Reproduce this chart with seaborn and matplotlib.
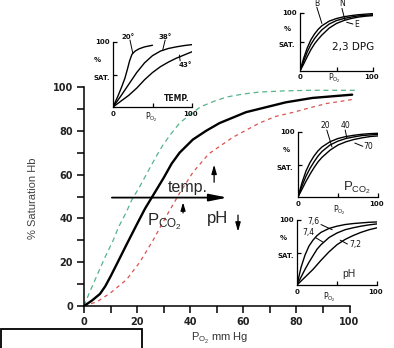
import matplotlib
matplotlib.use("Agg")
import matplotlib.pyplot as plt
from matplotlib.patches import Rectangle
import seaborn as sns

# --- main dissociation curves (PO2 mm Hg, % saturation) ---
normal_x = [0, 3, 6, 8, 10, 12.5, 16, 20, 23, 26, 30, 33, 36, 41, 46, 51, 56, 61, 66, 71, 76, 81, 86, 91, 96, 101]
normal_y = [0, 2.5, 5.5, 9, 13.5, 19.5, 28, 37.5, 44.5, 50.5, 58.5, 65, 70, 76, 80, 83.5, 86, 88.5, 90, 91.5, 93, 94, 95, 95.5, 96, 96.5]

left_x = [0, 2, 4, 6, 8, 11, 13, 16, 18, 20.5, 23, 25, 28, 30, 33, 36, 40, 44, 49, 54, 60, 66, 75, 85, 95, 103]
left_y = [0, 6, 11.5, 17, 22.5, 30, 36, 43, 48.5, 53.5, 59, 63.5, 70, 74, 79, 83.5, 87.5, 91, 93.5, 95.5, 96.8, 97.7, 98.2, 98.5, 98.5, 98.5]

right_x = [0, 5, 10, 16, 21, 26, 31, 36, 41, 47, 56, 66, 72, 79, 85, 91.5, 97, 102]
right_y = [0, 2, 6, 12, 20, 30, 41, 51.5, 61, 69.5, 77, 83.5, 86.5, 88.5, 90.5, 92.5, 93.5, 94.5]

main_ticks = [0, 20, 40, 60, 80, 100]

# --- inset curves (inset PO2 0-100, % sat 0-100) ---
temp_labels = ["20°", "38°", "43°"]
t20_x = [0, 6, 11, 15, 18, 21, 24, 28, 33, 40, 50]
t20_y = [0, 16, 31, 44, 57, 71, 81, 86, 89.5, 92.5, 95]
t38_x = [0, 10, 20, 30, 40, 50, 60, 70, 80, 90, 100]
t38_y = [0, 17, 35, 53, 68, 79, 86, 90, 92.5, 94.5, 96]
t43_x = [0, 10, 20, 30, 40, 50, 60, 70, 80, 90, 100]
t43_y = [0, 9, 18, 29, 42, 53, 62, 69, 75, 80, 85]

inset_x = [0, 5, 10, 15, 20, 25, 30, 40, 50, 60, 70, 80, 90, 100]
dpg_labels = ["B", "N", "E"]
dpg_b = [0, 22, 40, 54, 64, 72, 78, 86, 90.5, 93.5, 95.5, 97, 98, 99]
dpg_n = [0, 17, 33, 46, 56, 64, 71, 81, 87, 90.5, 93, 95, 96, 97]
dpg_e = [0, 12, 25, 37, 47, 55, 62, 74, 82, 87, 90.5, 93, 94.5, 95.5]

co2_labels = ["20", "40", "70"]
co2_20 = [0, 22, 40, 53, 63, 71, 77, 85, 90, 93, 95, 96.5, 97.5, 98]
co2_40 = [0, 17, 32, 44, 54, 63, 70, 80, 86, 90, 92.5, 94.5, 95.5, 96.5]
co2_70 = [0, 12, 24, 35, 45, 54, 61, 72, 80, 85, 88.5, 91, 93, 94]

ph_labels = ["7,6", "7,4", "7,2"]
ph_76 = [0, 27, 46, 60, 69, 76, 81, 87, 90.5, 93, 94.5, 95.5, 96.5, 97]
ph_74 = [0, 12, 24, 35, 45, 55, 62, 73, 80, 85, 88, 90.5, 92.5, 94]
ph_72 = [0, 6, 12, 18, 24, 31, 38, 51, 62, 70, 76, 81, 85, 88]

W, H = 394, 348

sns.set_theme(style="white")
plt.rcParams["font.family"] = ["Liberation Sans", "DejaVu Sans"]
plt.rcParams["mathtext.fontset"] = "custom"
plt.rcParams["mathtext.rm"] = "Liberation Sans"
plt.rcParams["mathtext.it"] = "Liberation Sans:italic"

fig = plt.figure(figsize=(W / 100, H / 100), dpi=100)

# main axes: x 0 at px 84, 100 at px 349.5 ; y 0 at px 306, 100 at px 87
ax = fig.add_axes([84 / W, 1 - 306 / H, 273.5 / W, 219 / H])
ax.set_xlim(0, 103)
ax.set_ylim(0, 100)
ax.patch.set_alpha(0)

sns.lineplot(x=left_x, y=left_y, ax=ax, color="#55b48a", linewidth=0.9, linestyle=(0, (4, 3)))
sns.lineplot(x=right_x, y=right_y, ax=ax, color="#d9534f", linewidth=0.9, linestyle=(0, (3, 3)))
sns.lineplot(x=normal_x, y=normal_y, ax=ax, color="black", linewidth=1.7)

for s in ["top", "right"]:
    ax.spines[s].set_visible(False)
for s in ["left", "bottom"]:
    ax.spines[s].set_color("black")
    ax.spines[s].set_linewidth(1.1)
ax.spines["bottom"].set_bounds(0, 100)

ax.set_xticks(main_ticks)
ax.set_yticks(main_ticks)
ax.set_xticks(range(10, 100, 20), minor=True)
ax.set_yticks(range(10, 100, 20), minor=True)
ax.tick_params(which="both", direction="out", length=5, width=1.1, color="black",
               labelsize=7, pad=3, left=True, bottom=True)
for lbl in ax.get_xticklabels() + ax.get_yticklabels():
    lbl.set_fontfamily("DejaVu Sans")
    lbl.set_fontweight("bold")
    lbl.set_color("#222222")

fig.text(33 / W, 1 - 198 / H, "% Saturation Hb", rotation=90, ha="center", va="center",
         fontsize=8, color="#444444")
fig.text(219.5 / W, 1 - 338 / H, r"P$_{\mathrm{O_2}}$ mm Hg", ha="center", va="center",
         fontsize=8, color="#333333")

# shift arrow and annotations
arrow = dict(color="black", shrinkA=0, shrinkB=0)
ax.annotate("", xy=(54, 49.5), xytext=(10.5, 49.5),
            arrowprops=dict(arrowstyle="-|>,head_length=0.9,head_width=0.18", lw=1.3, **arrow))
ax.text(31.5, 52, "temp.", fontsize=11.5, va="baseline")
ax.annotate("", xy=(49, 64.5), xytext=(49, 56.5),
            arrowprops=dict(arrowstyle="-|>,head_length=0.45,head_width=0.13", lw=0.9, **arrow))
ax.annotate("", xy=(37.3, 47.3), xytext=(37.3, 42.5),
            arrowprops=dict(arrowstyle="-|>,head_length=0.4,head_width=0.12", lw=0.9, **arrow))
ax.text(23.7, 37, r"P$_{\mathrm{CO_2}}$", fontsize=12, va="baseline")
ax.text(46.3, 38, "pH", fontsize=12, va="baseline")
ax.annotate("", xy=(58, 34), xytext=(58, 41.5),
            arrowprops=dict(arrowstyle="-|>,head_length=0.45,head_width=0.13", lw=0.9, **arrow))


def make_inset(px0, px100, py0, py100):
    a = fig.add_axes([px0 / W, 1 - py0 / H, (px100 - px0) / W, (py0 - py100) / H])
    a.set_xlim(0, 100)
    a.set_ylim(0, 100)
    a.patch.set_alpha(0)
    for s in ["top", "right"]:
        a.spines[s].set_visible(False)
    for s in ["left", "bottom"]:
        a.spines[s].set_color("black")
        a.spines[s].set_linewidth(0.9)
    a.set_xticks([50, 100])
    a.set_yticks([50, 100])
    a.tick_params(direction="in", length=3, width=0.9, color="black",
                  labelbottom=False, labelleft=False, left=True, bottom=True)
    return a


def itext(a, x, y, s, size=5, ha="center", weight="bold", **kw):
    a.text(x, y, s, fontsize=size, ha=ha, va="center", fontweight=weight,
           family="DejaVu Sans", color="#111111", clip_on=False, **kw)


def frame_labels(a, pct_x, sat_x, po2_x, po2_y):
    itext(a, -4, 100, "100", ha="right")
    itext(a, pct_x, 72, "%")
    itext(a, sat_x, 45, "SAT.", ha="right")
    itext(a, 0, -11, "0")
    itext(a, po2_x, po2_y, r"P$_{\mathrm{O_2}}$", size=5.5, weight="normal")
    itext(a, 98, -11, "100")


def link(a, x0, y0, x1, y1):
    a.plot([x0, x1], [y0, y1], color="black", lw=0.7, clip_on=False)


# temperature inset
ta = make_inset(113, 192, 107, 42)
for xs, ys in [(t20_x, t20_y), (t38_x, t38_y), (t43_x, t43_y)]:
    sns.lineplot(x=xs, y=ys, ax=ta, color="black", linewidth=1.0)
frame_labels(ta, -20, -4, 48, -16)
itext(ta, 80, 13, "TEMP.", size=5.5)
itext(ta, 19, 108, temp_labels[0])
link(ta, 21.5, 103, 25, 83)
itext(ta, 66, 108, temp_labels[1])
link(ta, 66, 103, 63, 88)
itext(ta, 91, 65, temp_labels[2])
link(ta, 85, 71, 84, 80)

# 2,3 DPG inset
da = make_inset(300, 373, 71, 13)
for ys in [dpg_b, dpg_n, dpg_e]:
    sns.lineplot(x=inset_x, y=ys, ax=da, color="black", linewidth=1.0)
frame_labels(da, -18, -7, 46.6, -13)
itext(da, 44, 41, "2,3 DPG", size=7.5, ha="left", weight="normal")
itext(da, 23, 116, dpg_labels[0], size=5.5, weight="normal")
link(da, 23, 110, 30, 82)
itext(da, 57.5, 116, dpg_labels[1], size=5.5, weight="normal")
link(da, 57.5, 108, 61.5, 88)
itext(da, 77, 80, dpg_labels[2], size=5.5, weight="normal")
link(da, 64, 84, 72.5, 81)

# PCO2 inset
ca = make_inset(298, 378, 197, 132)
for ys in [co2_20, co2_40, co2_70]:
    sns.lineplot(x=inset_x, y=ys, ax=ca, color="black", linewidth=1.0)
frame_labels(ca, -14, -6, 52, -21)
ca.text(56, 10, r"P$_{\mathrm{CO_2}}$", fontsize=9.5, va="baseline", clip_on=False)
itext(ca, 34, 110, co2_labels[0], size=5.5, weight="normal")
link(ca, 36, 103, 42.5, 77)
itext(ca, 59, 110, co2_labels[1], size=5.5, weight="normal")
link(ca, 59, 103, 61, 91)
itext(ca, 88, 77, co2_labels[2], size=5.5, weight="normal")
link(ca, 71, 83, 81, 78)

# pH inset
pa = make_inset(297, 377, 285, 220)
for ys in [ph_76, ph_74, ph_72]:
    sns.lineplot(x=inset_x, y=ys, ax=pa, color="black", linewidth=1.0)
frame_labels(pa, -17, -3, 41, -19)
pa.text(57, 12, "pH", fontsize=7.5, va="baseline", clip_on=False)
itext(pa, 21, 98, ph_labels[0], size=5.5, weight="normal")
link(pa, 30, 93, 44, 85)
itext(pa, 14, 80, ph_labels[1], size=5.5, weight="normal")
link(pa, 23, 73, 32.5, 66)
itext(pa, 73, 62, ph_labels[2], size=5.5, weight="normal")
link(pa, 54, 69, 63, 63)

# partly visible framed box at the bottom left
fig.patches.append(Rectangle((0.003, -0.1), 0.357, 0.1546, transform=fig.transFigure,
                             fill=False, lw=1.3, ec="black"))

fig.savefig("out.png", dpi=100)
